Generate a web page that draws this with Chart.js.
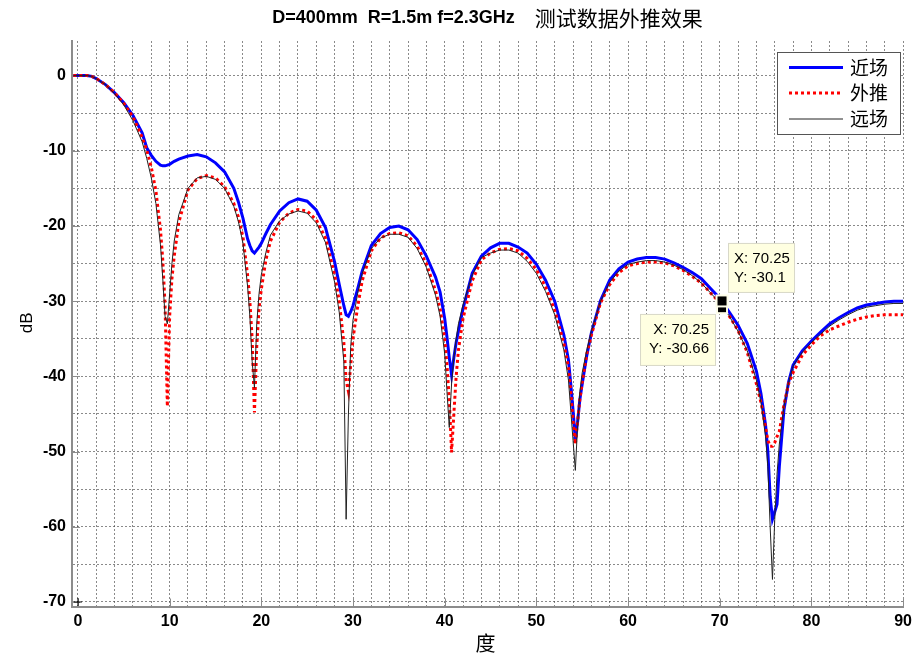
<!DOCTYPE html>
<html>
<head>
<meta charset="utf-8">
<script src="https://cdn.jsdelivr.net/npm/chart.js@4.4.1/dist/chart.umd.min.js"></script>
<style>
  html, body { margin: 0; padding: 0; background: #fff; }
  #wrap { width: 917px; height: 654px; }
</style>
</head>
<body>
<div id="wrap"><canvas id="c" width="917" height="654"></canvas></div>
<script>
// angle (deg) grid shared by the three patterns, denser around the nulls
const angles = [
  -0.5, 0, 1, 1.5, 2, 3, 4, 5, 6, 7, 7.5, 8, 8.5, 9, 9.25, 9.5, 9.75, 10, 10.25, 10.5,
  11, 12, 13, 14, 15, 16, 17, 17.5, 18, 18.5, 18.75, 19, 19.25, 19.5, 19.75, 20, 20.5,
  21, 22, 23, 24, 25, 26, 27, 28, 28.5, 29, 29.25, 29.5, 29.75, 30, 30.5,
  31, 32, 33, 34, 35, 36, 37, 38, 39, 39.5, 40, 40.25, 40.5, 40.75, 41, 41.25, 41.5,
  42, 43, 44, 45, 46, 47, 48, 49, 50, 51, 52, 53, 53.5, 53.75, 54, 54.25, 54.5, 54.75,
  55, 55.5, 56, 57, 58, 59, 60, 61, 62, 63, 64, 65, 66, 67, 68, 69, 70, 70.25,
  71, 72, 73, 74, 74.5, 75, 75.25, 75.5, 75.75, 76, 76.25, 76.5, 77, 77.5,
  78, 79, 80, 81, 82, 83, 84, 85, 86, 87, 88, 89, 90
];

// 近场 - measured near-field pattern (dB)
const nearDb = [
  0, 0, 0, -0.1, -0.4, -1.2, -2.3, -3.6, -5.3, -7.6, -9.6, -10.6, -11.4, -11.9, -12.0, -12.0, -11.9, -11.8, -11.6, -11.4,
  -11.1, -10.7, -10.5, -10.8, -11.6, -12.8, -15.0, -16.8, -19.0, -21.7, -22.6, -23.3, -23.6, -23.2, -22.8, -22.3, -21.0,
  -19.8, -18.0, -16.9, -16.4, -16.7, -17.9, -20.2, -24.8, -27.8, -30.6, -31.8, -32.0, -31.4, -30.6, -28.4,
  -26.0, -22.6, -21.0, -20.2, -20.0, -20.5, -21.8, -24.0, -26.8, -28.8, -32.3, -34.8, -37.5, -39.8, -37.5, -35.5, -34.0,
  -31.0, -26.3, -24.0, -22.9, -22.3, -22.3, -22.8, -23.6, -25.1, -27.2, -30.0, -34.5, -37.8, -41.0, -44.5, -48.5, -46.0, -43.0,
  -41.0, -37.2, -34.2, -29.9, -27.2, -25.7, -24.8, -24.4, -24.2, -24.2, -24.4, -24.9, -25.5, -26.2, -27.0, -28.3, -29.6, -30.1,
  -31.4, -33.2, -35.6, -39.3, -42.3, -46.5, -50.0, -56.0, -59.0, -58.0, -57.0, -52.0, -44.5, -40.8,
  -38.5, -36.6, -35.3, -34.1, -33.0, -32.2, -31.5, -30.9, -30.5, -30.3, -30.1, -30.0, -30.0
];

// 外推 - extrapolated pattern (dB)
const extrapDb = [
  0, 0, 0, -0.1, -0.4, -1.2, -2.3, -3.7, -5.5, -8.2, -9.9, -12.2, -15.3, -20.5, -24.5, -30.5, -44.0, -32.0, -27.0, -24.0,
  -19.5, -15.2, -13.7, -13.3, -13.6, -14.8, -17.0, -18.8, -21.5, -26.5, -30.0, -35.0, -44.8, -36.0, -31.0, -28.4, -24.5,
  -22.0, -19.5, -18.3, -17.8, -18.0, -19.2, -21.6, -26.5, -30.0, -35.5, -40.5, -42.0, -38.5, -35.0, -30.8,
  -27.3, -23.3, -21.6, -21.0, -20.9, -21.3, -22.7, -25.0, -28.6, -31.0, -35.0, -38.5, -43.1, -50.1, -45.0, -40.0, -36.5,
  -32.3, -27.3, -24.5, -23.6, -23.1, -23.0, -23.3, -24.3, -25.8, -28.1, -31.2, -35.6, -38.8, -42.0, -45.8, -49.0, -46.0, -43.0,
  -40.8, -37.0, -34.5, -30.2, -27.8, -26.2, -25.3, -25.0, -24.8, -24.8, -24.9, -25.3, -25.9, -26.7, -27.6, -28.9, -30.2, -30.66,
  -31.9, -33.9, -36.8, -41.0, -43.5, -46.8, -48.5, -49.3, -49.3, -48.8, -48.0, -47.3, -43.8, -41.0,
  -39.5, -37.2, -35.8, -34.6, -33.8, -33.3, -32.8, -32.4, -32.1, -31.9, -31.8, -31.8, -31.8
];

// 远场 - far-field reference pattern (dB)
const farDb = [
  0, 0, 0, -0.1, -0.4, -1.2, -2.4, -3.9, -6.0, -8.8, -11.0, -13.6, -17.0, -22.5, -27.0, -32.0, -33.0, -29.0, -25.0, -22.0,
  -18.5, -15.0, -13.6, -13.4, -13.8, -15.0, -17.4, -19.4, -22.3, -28.0, -32.0, -38.0, -41.5, -33.0, -29.0, -26.5, -23.5,
  -21.2, -19.3, -18.4, -18.0, -18.3, -19.6, -22.2, -27.5, -31.5, -38.0, -59.0, -45.0, -36.0, -32.5, -29.0,
  -26.3, -23.0, -21.6, -21.1, -21.1, -21.5, -23.0, -25.5, -29.2, -32.0, -37.0, -42.0, -46.8, -41.0, -37.5, -35.0, -33.0,
  -30.5, -26.5, -24.2, -23.6, -23.2, -23.2, -23.6, -24.7, -26.3, -28.7, -31.8, -36.5, -40.5, -44.5, -48.5, -52.5, -46.5, -42.0,
  -39.5, -36.5, -34.0, -30.0, -27.5, -26.0, -25.1, -24.8, -24.6, -24.6, -24.8, -25.2, -25.8, -26.6, -27.6, -28.9, -30.2, -30.6,
  -31.9, -34.0, -36.6, -40.5, -43.5, -48.0, -52.0, -60.0, -67.0, -59.0, -53.0, -49.0, -44.0, -40.8,
  -38.6, -36.8, -35.5, -34.4, -33.3, -32.5, -31.8, -31.2, -30.8, -30.6, -30.4, -30.3, -30.3
];

const xTickLabels = [0, 10, 20, 30, 40, 50, 60, 70, 80, 90];
const yTickLabels = [-70, -60, -50, -40, -30, -20, -10, 0];

// data tips on the 70.25 deg sample
const tipAngle = 70.25;
const tipNear = -30.1;
const tipExtrap = -30.66;

const xGrid = [];
for (let v = 0; v <= 90; v += 2) xGrid.push(v);
const yGrid = [];
for (let v = -70; v <= 0; v += 5) yGrid.push(v);

const pts = ys => angles.map((a, i) => ({ x: a, y: ys[i] }));

const CJK = "'Noto Sans CJK SC', 'Noto Sans CJK JP', sans-serif";

const decor = {
  id: 'decor',
  beforeDatasetsDraw(chart) {
    const { ctx, chartArea: a, scales: { x, y } } = chart;
    // short inward tick marks at labelled positions
    ctx.save();
    ctx.strokeStyle = '#8c8c8c';
    ctx.lineWidth = 1;
    ctx.beginPath();
    xTickLabels.forEach(v => {
      const px = Math.round(x.getPixelForValue(v)) + 0.5;
      ctx.moveTo(px, a.bottom); ctx.lineTo(px, a.bottom - 8);
    });
    yTickLabels.forEach(v => {
      const py = Math.round(y.getPixelForValue(v)) + 0.5;
      ctx.moveTo(a.left, py); ctx.lineTo(a.left + 8, py);
    });
    ctx.stroke();
    ctx.restore();
  },
  afterDraw(chart) {
    const { ctx, chartArea: a, scales: { x, y } } = chart;
    ctx.save();
    ctx.fillStyle = '#000';
    ctx.textBaseline = 'middle';

    // title: latin part bold, chinese part regular
    const t1 = 'D=400mm  R=1.5m f=2.3GHz';
    const t2 = '测试数据外推效果';
    const f1 = "bold 18px 'Liberation Sans', Arial, sans-serif";
    const f2 = '21px ' + CJK;
    ctx.font = f1; const w1 = ctx.measureText(t1).width;
    ctx.font = f2; const w2 = ctx.measureText(t2).width;
    const gap = 20;
    let tx = (a.left + a.right) / 2 - (w1 + gap + w2) / 2;
    ctx.textAlign = 'left';
    ctx.font = f1; ctx.fillText(t1, tx, 18);
    ctx.font = f2; ctx.fillText(t2, tx + w1 + gap, 18);

    // axis titles
    ctx.textAlign = 'center';
    ctx.font = '20px ' + CJK;
    ctx.fillText('度', (a.left + a.right) / 2 - 2, 643);
    ctx.save();
    ctx.translate(27, (a.top + a.bottom) / 2 - 1);
    ctx.rotate(-Math.PI / 2);
    ctx.font = "17px 'Liberation Sans', Arial, sans-serif";
    ctx.fillText('dB', 0, 0);
    ctx.restore();

    // legend box
    const lx = 777.5, ly = 52.5, lw = 123, lh = 82;
    ctx.fillStyle = '#fff';
    ctx.fillRect(lx, ly, lw, lh);
    ctx.strokeStyle = '#555';
    ctx.lineWidth = 1;
    ctx.strokeRect(lx, ly, lw, lh);
    const rows = [67.5, 93, 119];
    chart.data.datasets.filter(d => d.inLegend).forEach((d, i) => {
      const ry = rows[i];
      ctx.save();
      ctx.strokeStyle = d.borderColor;
      ctx.lineWidth = d.borderWidth;
      ctx.setLineDash(d.borderDash || []);
      ctx.beginPath();
      ctx.moveTo(789, ry); ctx.lineTo(843, ry);
      ctx.stroke();
      ctx.restore();
      ctx.fillStyle = '#000';
      ctx.textAlign = 'left';
      ctx.font = '19px ' + CJK;
      ctx.fillText(d.label, 850, ry);
    });

    // data tip markers and boxes
    const px = x.getPixelForValue(tipAngle);
    const pyN = y.getPixelForValue(tipNear);
    const pyE = y.getPixelForValue(tipExtrap);
    const marker = (cx, cy, s) => {
      ctx.fillStyle = '#fdfde8';
      ctx.fillRect(cx - s / 2 - 2, cy - s / 2 - 2, s + 4, s + 4);
      ctx.fillStyle = '#000';
      ctx.fillRect(cx - s / 2, cy - s / 2, s, s);
    };
    marker(px, pyE + 2, 8);
    marker(px, pyN - 1, 9);

    const tip = (bx, by, bw, bh, lines, alignRight) => {
      ctx.fillStyle = '#ffffe1';
      ctx.fillRect(bx, by, bw, bh);
      ctx.strokeStyle = '#d8d8c8';
      ctx.lineWidth = 1;
      ctx.strokeRect(bx + 0.5, by + 0.5, bw - 1, bh - 1);
      ctx.fillStyle = '#000';
      ctx.font = "15px 'Liberation Sans', Arial, sans-serif";
      ctx.textAlign = alignRight ? 'right' : 'left';
      lines.forEach((s, i) => {
        ctx.fillText(s, alignRight ? bx + bw - 7 : bx + 6, by + 16 + i * 19);
      });
    };
    tip(px + 6, pyN - 59, 67, 50, ['X: ' + tipAngle, 'Y: ' + tipNear], false);
    tip(px - 82, pyN + 12, 76, 52, ['X: ' + tipAngle, 'Y: ' + tipExtrap], true);
    ctx.restore();
  }
};

new Chart(document.getElementById('c'), {
  type: 'line',
  data: {
    datasets: [
      {
        label: '近场', inLegend: true,
        data: pts(nearDb),
        borderColor: '#0000ff', borderWidth: 3,
        pointRadius: 0, order: 3
      },
      {
        label: '外推', inLegend: true,
        data: pts(extrapDb),
        borderColor: '#ff0000', borderWidth: 3, borderDash: [3, 3],
        pointRadius: 0, order: 2
      },
      {
        label: '远场', inLegend: true,
        data: pts(farDb),
        borderColor: '#222222', borderWidth: 1,
        pointRadius: 0, order: 1
      },
      {
        label: 'origin', inLegend: false,
        data: [{ x: 0, y: -70 }],
        showLine: false, pointStyle: 'cross', pointRadius: 4,
        borderColor: '#000', borderWidth: 1, order: 0
      }
    ]
  },
  options: {
    responsive: false,
    animation: false,
    devicePixelRatio: 1,
    layout: { padding: { top: 41, right: 11, left: 0, bottom: 0 } },
    plugins: { legend: { display: false }, tooltip: { enabled: false }, title: { display: false } },
    scales: {
      x: {
        type: 'linear', min: -0.65, max: 90,
        afterBuildTicks: s => { s.ticks = xGrid.map(v => ({ value: v })); },
        afterFit: s => { s.height = 47.5; },
        ticks: {
          autoSkip: false, maxRotation: 0, padding: 5, color: '#000', font: { family: "'Liberation Sans', Arial", size: 16, weight: 'bold' },
          callback: v => xTickLabels.includes(v) ? String(v) : ''
        },
        grid: { color: 'rgba(60,60,60,0.6)', lineWidth: 1, drawTicks: false },
        border: { display: true, color: '#8c8c8c', width: 2, dash: [2, 2] }
      },
      y: {
        type: 'linear', min: -70.6, max: 4.6,
        afterBuildTicks: s => { s.ticks = yGrid.map(v => ({ value: v })); },
        afterFit: s => { s.width = 72; },
        ticks: {
          autoSkip: false, padding: 6, color: '#000', font: { family: "'Liberation Sans', Arial", size: 16, weight: 'bold' },
          callback: v => yTickLabels.includes(v) ? String(v) : ''
        },
        grid: { color: 'rgba(60,60,60,0.6)', lineWidth: 1, drawTicks: false },
        border: { display: true, color: '#8c8c8c', width: 2, dash: [2, 2] }
      }
    }
  },
  plugins: [decor]
});
</script>
</body>
</html>
